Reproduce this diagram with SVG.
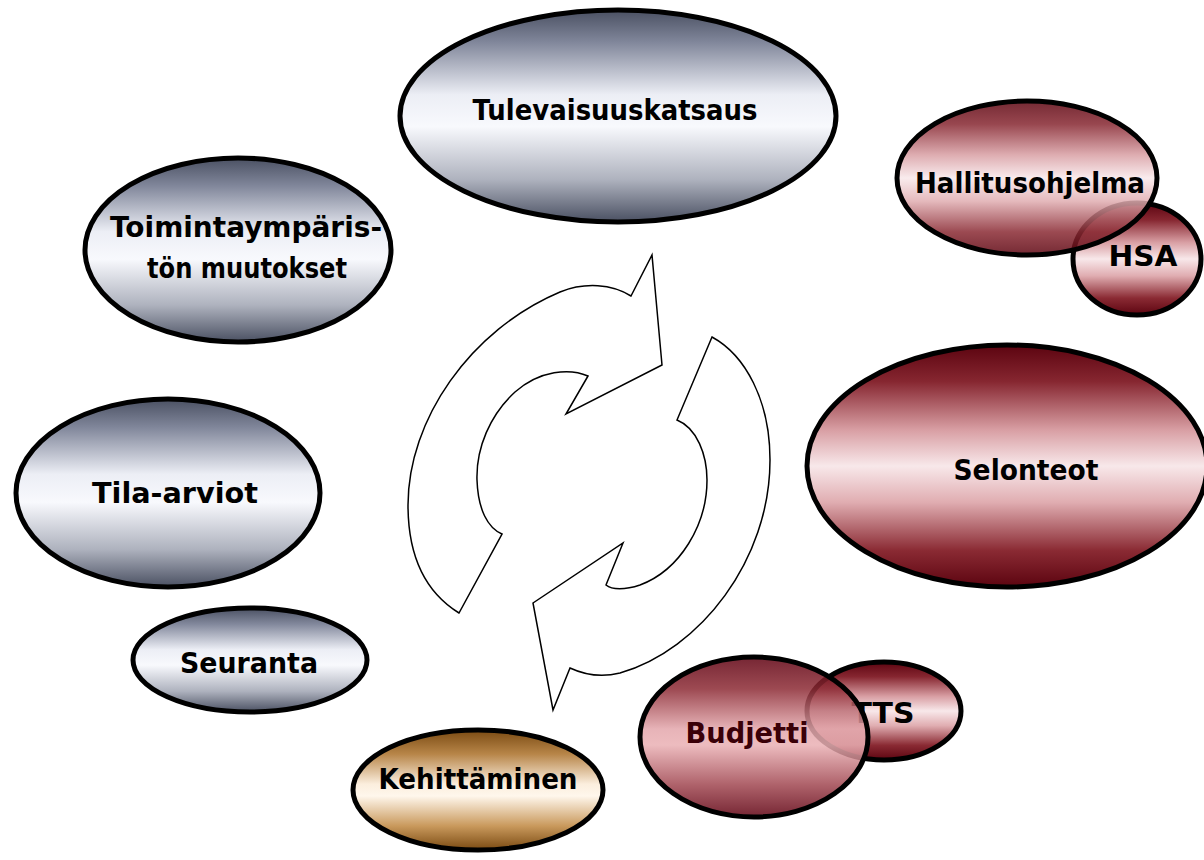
<svg xmlns="http://www.w3.org/2000/svg" width="1204" height="860" viewBox="0 0 1204 860">
<defs>
<linearGradient id="gGray" x1="0" y1="0" x2="0" y2="1">
<stop offset="0" stop-color="#4a5062"/>
<stop offset="0.15" stop-color="#80869a"/>
<stop offset="0.4" stop-color="#eceef5"/>
<stop offset="0.55" stop-color="#f8f9fd"/>
<stop offset="0.8" stop-color="#aeb2be"/>
<stop offset="1" stop-color="#4a5062"/>
</linearGradient>
<linearGradient id="gRed" x1="0" y1="0" x2="0" y2="1">
<stop offset="0" stop-color="#5c0410"/>
<stop offset="0.15" stop-color="#862630"/>
<stop offset="0.35" stop-color="#d89ea3"/>
<stop offset="0.5" stop-color="#f8e8ea"/>
<stop offset="0.65" stop-color="#e0adb1"/>
<stop offset="0.85" stop-color="#8a2a33"/>
<stop offset="1" stop-color="#5c0410"/>
</linearGradient>
<linearGradient id="gRed2" x1="0" y1="0" x2="0" y2="1">
<stop offset="0" stop-color="#5e0010"/>
<stop offset="0.2" stop-color="#8c2a34"/>
<stop offset="0.45" stop-color="#e3a6ab"/>
<stop offset="0.55" stop-color="#eab0b4"/>
<stop offset="0.8" stop-color="#a04650"/>
<stop offset="1" stop-color="#5e0010"/>
</linearGradient>
<linearGradient id="gGold" x1="0" y1="0" x2="0" y2="1">
<stop offset="0" stop-color="#7a4a12"/>
<stop offset="0.2" stop-color="#b78548"/>
<stop offset="0.45" stop-color="#fbeedd"/>
<stop offset="0.55" stop-color="#fff7ec"/>
<stop offset="0.8" stop-color="#c9995c"/>
<stop offset="1" stop-color="#7a4a12"/>
</linearGradient>
</defs>
<style>
.e{stroke:#000;stroke-width:5}
.t{font-family:"DejaVu Sans","Liberation Sans",sans-serif;font-weight:bold;font-size:29px;fill:#000;text-anchor:middle}
.arr{fill:#fff;stroke:#000;stroke-width:1.5;stroke-linejoin:miter}
</style>
<rect width="1204" height="860" fill="#fff"/>
<g id="connectors">
<path class="arr" d="M459,613 C425,592 408,555 408,505 C408,420 470,330 560,292 C585,282 612,284 631,296 L652,255 L662,365 L566,414 L588,376 C570,368 540,370 515,392 C490,415 476,448 477,480 C478,510 488,528 502,534 Z"/>
<path class="arr" d="M712,337 C745,355 770,400 770,460 C770,560 700,650 620,673 C600,678 585,675 570,668 L553,710 L533,603 L623,543 L606,585 C612,590 625,590 640,585 C680,570 707,525 707,480 C707,455 697,428 677,420 Z"/>
</g>
<g id="tulevaisuuskatsaus">
<ellipse class="e" cx="618" cy="116" rx="218" ry="106" fill="url(#gGray)"/>
<text class="t" x="615" y="120" textLength="285" lengthAdjust="spacingAndGlyphs">Tulevaisuuskatsaus</text>
</g>
<g id="toimintaymparisto">
<ellipse class="e" cx="238" cy="250" rx="153" ry="92" fill="url(#gGray)"/>
<text class="t" x="246" y="237" textLength="272" lengthAdjust="spacingAndGlyphs">Toimintaympäris-</text>
<text class="t" x="247" y="278" textLength="200" lengthAdjust="spacingAndGlyphs">tön muutokset</text>
</g>
<g id="tila-arviot">
<ellipse class="e" cx="168" cy="493" rx="152" ry="94" fill="url(#gGray)"/>
<text class="t" x="175" y="503" textLength="166" lengthAdjust="spacingAndGlyphs">Tila-arviot</text>
</g>
<g id="seuranta">
<ellipse class="e" cx="250" cy="660" rx="117" ry="52" fill="url(#gGray)"/>
<text class="t" x="249" y="673" textLength="138" lengthAdjust="spacingAndGlyphs">Seuranta</text>
</g>
<g id="kehittaminen">
<ellipse class="e" cx="478" cy="790" rx="125" ry="60" fill="url(#gGold)"/>
<text class="t" x="478" y="789" textLength="199" lengthAdjust="spacingAndGlyphs">Kehittäminen</text>
</g>
<g id="selonteot">
<ellipse class="e" cx="1007" cy="466" rx="200" ry="121" fill="url(#gRed)"/>
<text class="t" x="1026" y="480" textLength="145" lengthAdjust="spacingAndGlyphs">Selonteot</text>
</g>
<g id="hsa">
<ellipse class="e" cx="1137" cy="259" rx="64" ry="56" fill="url(#gRed)"/>
<text class="t" x="1143" y="266" textLength="69" lengthAdjust="spacingAndGlyphs">HSA</text>
</g>
<g id="hallitusohjelma">
<ellipse class="e" cx="1027" cy="178" rx="130" ry="77" fill="url(#gRed)" fill-opacity="0.85"/>
<text class="t" x="1030" y="193" textLength="230" lengthAdjust="spacingAndGlyphs">Hallitusohjelma</text>
</g>
<g id="tts">
<ellipse class="e" cx="884" cy="711" rx="77" ry="49" fill="url(#gRed)"/>
<text class="t" x="883" y="723" textLength="63" lengthAdjust="spacingAndGlyphs">TTS</text>
</g>
<g id="budjetti">
<ellipse class="e" cx="754" cy="737" rx="114" ry="80" fill="url(#gRed2)" fill-opacity="0.85"/>
<text class="t" x="747" y="743" textLength="123" lengthAdjust="spacingAndGlyphs" style="fill:#3a0008">Budjetti</text>
</g>
</svg>
